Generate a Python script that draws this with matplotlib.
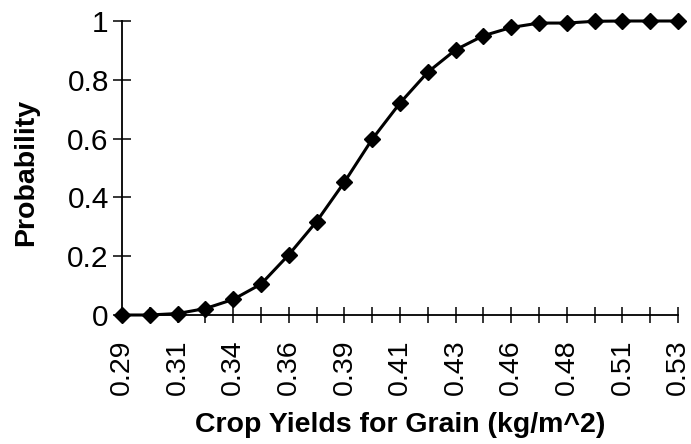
import matplotlib
matplotlib.use("Agg")
import matplotlib.pyplot as plt

# Crop yield values (kg/m^2) and cumulative probability
yields = [0.290, 0.302, 0.314, 0.326, 0.338, 0.350, 0.362, 0.374, 0.386, 0.398, 0.410,
          0.422, 0.434, 0.446, 0.458, 0.470, 0.482, 0.494, 0.506, 0.518, 0.530]
probability = [0.000, 0.000, 0.005, 0.022, 0.053, 0.105, 0.205, 0.318, 0.452, 0.598, 0.721,
               0.826, 0.902, 0.950, 0.978, 0.993, 0.993, 0.999, 1.000, 1.000, 1.000]
y_ticks = [0, 0.2, 0.4, 0.6, 0.8, 1]
y_tick_labels = ["0", "0.2", "0.4", "0.6", "0.8", "1"]

plt.rcParams["font.family"] = ["Liberation Sans", "DejaVu Sans"]

W, H = 691, 444
fig = plt.figure(figsize=(W / 100, H / 100), dpi=100)
ax = fig.add_axes([122 / W, 1 - 315 / H, (678 - 122) / W, (315 - 21) / H])

ax.plot(yields, probability, color="black", lw=2.2, marker="D", markersize=8,
        markerfacecolor="black", markeredgecolor="black", clip_on=False, zorder=3)

ax.set_xlim(yields[0], yields[-1])
ax.set_ylim(0, 1)

ax.set_xticks(yields)
ax.set_xticklabels([f"{v:.2f}" if i % 2 == 0 else "" for i, v in enumerate(yields)],
                   rotation=90)
ax.set_yticks(y_ticks)
ax.set_yticklabels(y_tick_labels)

for side in ("top", "right"):
    ax.spines[side].set_visible(False)
for side in ("left", "bottom"):
    ax.spines[side].set_linewidth(1.3)

ax.tick_params(axis="both", direction="inout", width=1.1, colors="black")
ax.tick_params(axis="y", length=13, pad=3, labelsize=21.5)
ax.tick_params(axis="x", length=11, pad=12, labelsize=20.5)

ax.set_xlabel("Crop Yields for Grain (kg/m^2)", fontsize=20.5, fontweight="bold")
ax.set_ylabel("Probability", fontsize=20.5, fontweight="bold")
ax.xaxis.set_label_coords(400 / W, 1 - 425 / H, transform=fig.transFigure)
ax.yaxis.set_label_coords(26 / W, 1 - 172 / H, transform=fig.transFigure)
ax.xaxis.label.set_va("center")
ax.yaxis.label.set_va("center")

fig.savefig("out.png", dpi=100, facecolor="white")
